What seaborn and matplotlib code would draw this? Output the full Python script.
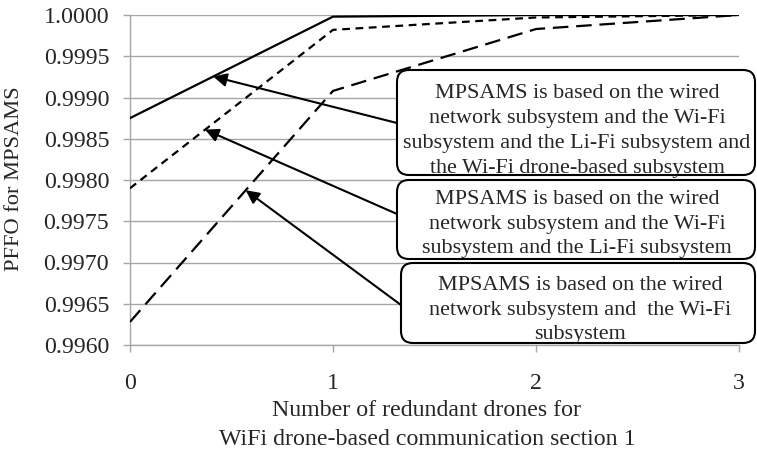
import numpy as np
import pandas as pd
import matplotlib
matplotlib.use("Agg")
import matplotlib.pyplot as plt
import seaborn as sns
from matplotlib.patches import FancyBboxPatch

# ---- data ----
drones = [0, 1, 2, 3]
pffo_wired_wifi_lifi_drone = [0.99875, 0.99998, 1.00000, 1.00000]
pffo_wired_wifi_lifi = [0.99790, 0.99982, 0.99997, 1.00000]
pffo_wired_wifi = [0.99628, 0.99908, 0.99983, 1.00000]

series_names = ["wired+Wi-Fi+Li-Fi+drone", "wired+Wi-Fi+Li-Fi", "wired+Wi-Fi"]
box_texts = [
    "MPSAMS is based on the wired\nnetwork subsystem and the Wi-Fi\nsubsystem and the Li-Fi subsystem and\nthe Wi-Fi drone-based subsystem",
    "MPSAMS is based on the wired\nnetwork subsystem and the Wi-Fi\nsubsystem and the Li-Fi subsystem",
    "MPSAMS is based on the wired\nnetwork subsystem and  the Wi-Fi\nsubsystem",
]
ytick_values = [0.9960, 0.9965, 0.9970, 0.9975, 0.9980, 0.9985, 0.9990, 0.9995, 1.0000]
xtick_values = [0, 1, 2, 3]
x_label = "Number of redundant drones for\nWiFi drone-based communication section 1"
y_label = "PFFO for MPSAMS"

df = pd.DataFrame({
    "drones": drones * 3,
    "pffo": pffo_wired_wifi_lifi_drone + pffo_wired_wifi_lifi + pffo_wired_wifi,
    "series": [s for s in series_names for _ in drones],
})

sns.set_style("ticks")
plt.rcParams["font.family"] = ["Liberation Serif", "DejaVu Serif"]

W, H = 757, 451
fig = plt.figure(figsize=(W / 100, H / 100), dpi=100)
ax = fig.add_axes([130 / W, 1 - 345 / H, (739 - 130) / W, (345 - 15) / H])

sns.lineplot(data=df, x="drones", y="pffo", style="series",
             style_order=series_names,
             dashes={series_names[0]: "", series_names[1]: (3.5, 2.5), series_names[2]: (7, 3.5)},
             color="black", linewidth=1.6, legend=False, ax=ax, zorder=3)

ax.set_xlim(0, 3)
ax.set_ylim(0.9960, 1.0000)
ax.set_yticks(ytick_values)
ax.set_yticklabels([f"{v:.4f}" for v in ytick_values])
ax.set_xticks(xtick_values)
ax.set_xticklabels([str(v) for v in xtick_values])
ax.yaxis.grid(True, color="#a6a6a6", linewidth=1.0)
ax.xaxis.grid(False)
for s in ["top", "right"]:
    ax.spines[s].set_visible(False)
for s in ["left", "bottom"]:
    ax.spines[s].set_color("#a6a6a6")
    ax.spines[s].set_linewidth(1.0)
ax.tick_params(axis="y", length=5, width=1, color="#a6a6a6", pad=10, labelsize=17.2)
ax.tick_params(axis="x", length=5, width=1, color="#a6a6a6", pad=15, labelsize=17.2)

ax.set_xlabel(x_label, fontsize=17.2, linespacing=1.45)
ax.xaxis.set_label_coords((427 - 130) / 609, (345 - 425) / 330)
ax.xaxis.label.set_va("center")
ax.set_ylabel(y_label, fontsize=16.2)
ax.yaxis.set_label_coords((15 - 130) / 609, (345 - 179) / 330)
ax.yaxis.label.set_va("center")

# ---- callout boxes (pixel geometry -> inches) ----
def px(x, y):
    return x / 100, (H - y) / 100

boxes = [(397, 70, 755, 175), (397, 180, 755, 259), (401, 263, 755, 343)]
text_centers = [(577, 131), (577, 224), (580, 310)]
for (x0, y0, x1, y1), (tx, ty), txt in zip(boxes, text_centers, box_texts):
    bx, by = px(x0, y1)
    patch = FancyBboxPatch((bx, by), (x1 - x0) / 100, (y1 - y0) / 100,
                           boxstyle="round,pad=0,rounding_size=0.12",
                           transform=fig.dpi_scale_trans, facecolor="white",
                           edgecolor="black", linewidth=1.5, zorder=5)
    fig.add_artist(patch)
    cx, cy = px(tx, ty)
    fig.text(cx, cy, txt, transform=fig.dpi_scale_trans, ha="center", va="center",
             fontsize=15.9, linespacing=1.41, zorder=6)

# ---- arrows from boxes to lines ----
arrow_x = [0.41, 0.37, 0.57]
arrow_series = [pffo_wired_wifi_lifi_drone, pffo_wired_wifi_lifi, pffo_wired_wifi]
arrow_tails = [(397, 123), (397, 214), (401, 305)]
for axx, ser, (tx, ty) in zip(arrow_x, arrow_series, arrow_tails):
    hy = np.interp(axx, drones, ser)
    ax.annotate("", xy=(axx, hy), xycoords="data",
                xytext=(tx / W, 1 - ty / H), textcoords="figure fraction",
                arrowprops=dict(arrowstyle="-|>", color="black", lw=1.5,
                                mutation_scale=20, shrinkA=0, shrinkB=0),
                annotation_clip=False, zorder=4)

fig.savefig("out.png", dpi=100)
